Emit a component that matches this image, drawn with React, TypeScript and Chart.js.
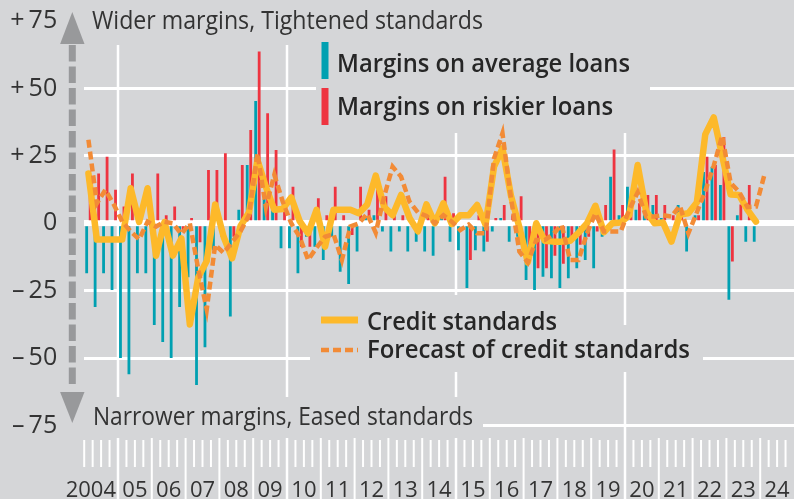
import React, { useEffect, useRef } from 'react';
import { Chart, registerables } from 'chart.js';

Chart.register(...registerables);

// ---------- data ----------
const YEAR_LABELS = ['2004', '05', '06', '07', '08', '09', '10', '11', '12', '13', '14', '15', '16', '17', '18', '19', '20', '21', '22', '23', '24'];
const QUARTER_NAMES = ['Q1', 'Q2', 'Q3', 'Q4'];
const CATEGORIES = YEAR_LABELS.flatMap((y) => QUARTER_NAMES.map((q) => `${y}${q}`));

// Margins on average loans (2004Q1 .. 2023Q4)
const AVG_MARGINS = [
  -18.5, -31, -18.5, -24.7, -50, -56, -18.5, -18.5, -37.7, -44,
  -50, -31, -20, -60, -46, -10, -5, -34.6, 5, 21.6,
  45.4, 9, 8, -9.3, -9.3, -18.5, -5, -8.7, -13.6, -5,
  -18, -22.5, -10.5, 2.5, 3, -3, -10.5, -3, -10.5, -6.8,
  -10.5, -12, 3, -6.8, -10, -24, -10, -10.5, -3, 2,
  -6.8, -5, -21, -24.7, -19.8, -20.4, -24, -20.4, -16.7, -13.6,
  -16.7, -5, 17.3, 3, 13.6, 5, 3, 6.8, 2, 0,
  6.8, -10.5, 3, 19, 21, 14.2, -28.4, 3, -6.8, -6.8,
];

// Margins on riskier loans
const RISKY_MARGINS = [
  12, 18.5, 24.7, 12.4, 6.2, 18.5, 0, 0, 18.5, 3,
  6.2, -3, 2, -7, 19.8, 19.8, 26, -5, 21.6, 34.6,
  63.7, 40.8, 27.2, 5, 13.6, -8.7, -8.7, 9.3, 3, 13.6,
  3, -4.3, 13.6, 5, 12.4, 10, 5, 3, 2, 0,
  2.5, 3, 17.3, 3.7, 0, -13.6, 3, -6.8, 2, 6.8,
  3, 10, -8, -16.7, -16.7, -12, -15, -6, -8, -5,
  -3, 6.8, 27.4, 6.8, 5, 7.4, 10.5, 10.5, 6.8, 3,
  5, 0, 3, 24.7, 21.6, 32, -14.2, 7, 14.2, 0,
];

// Credit standards
const CREDIT_STANDARDS = [
  18.5, -6, -6, -6, -6, 13, 0.5, 13, -12, 0.5,
  -12, -5.6, -37.5, -20, -14, 7, -5, -13, -1, 4,
  23.5, 13.5, 5, 5.3, 9.6, 0.8, -3.7, 5, -8.7, 5,
  5, 5, 3.7, 7, 17.7, 6, 3, 10.5, 2, -3,
  7, 0, 7.4, -0.3, 3, 3, 6.8, -0.5, 21, 27.8,
  10.3, -1.5, -14.5, 0, -6.5, -6.8, -6.8, -6.5, -3.5, 0,
  6.5, -3.3, 0, 0.3, 3, 21.6, 4.5, 0, 0.3, -6.8,
  3.3, 3.7, 7.7, 33, 39.3, 25, 10.7, 10.5, 5, 0.6,
];

// Forecast of credit standards (one quarter further)
const FORECAST = [
  31, 7.4, 12.4, 7, 0.6, -3, -6, 0.6, -1.2, 0.6,
  0, -4, 0, -17, -32, -8, -11, -7, -3, 3,
  26, 6, 18, 8, 0, -5, -13.6, -9, -5, -4,
  -13.6, -1.2, 0, 3.5, -3.5, 10, 21, 17.3, 8, 4,
  2.7, 0, 3, 0.6, -2.5, -0.5, -3.7, -3.7, 24, 33.4,
  9.5, -10.5, -14.5, -6.2, -6.2, -4, -0.6, -13.6, -13.6, -3.7,
  3.7, -3, -3, -3, 5, 11.5, 2.5, 2.5, 3, 2.5,
  6.5, -3.7, 4, 12, 21.3, 32.5, 15, 11.7, 6, 6.2,
  18,
];

const TOP_CAPTION = 'Wider margins, Tightened standards';
const BOTTOM_CAPTION = 'Narrower margins, Eased standards';
const LEGEND_AVG = 'Margins on average loans';
const LEGEND_RISKY = 'Margins on riskier loans';
const LEGEND_CREDIT = 'Credit standards';
const LEGEND_FORECAST = 'Forecast of credit standards';

// ---------- styles ----------
const W = 794;
const H = 499;
const BG = '#d5d6d8';
const INK = '#333333';
const INK_DARK = '#262626';
const TEAL = '#00a0b1';
const RED = '#ee3440';
const SOLID = '#fdb92a';
const DASHED = '#f28b36';
const ARROW = '#98999b';
const FONT = '"Open Sans", "Noto Sans", "DejaVu Sans", sans-serif';

// background boxes behind the captions / legend (hide the grid there)
const MASKS: [number, number, number, number][] = [
  [84, 0, 490, 45],
  [316, 0, 650, 133],
  [310, 295, 565, 330],
  [310, 325, 703, 372],
  [84, 397, 483, 438],
];

function drawText(
  ctx: CanvasRenderingContext2D,
  str: string,
  x: number,
  y: number,
  width: number | null,
  font: string,
  color: string,
  align: 'left' | 'right' | 'center' = 'left'
) {
  ctx.save();
  ctx.font = font;
  ctx.fillStyle = color;
  ctx.textBaseline = 'alphabetic';
  ctx.textAlign = 'left';
  const w = ctx.measureText(str).width;
  const sx = width ? width / w : 1;
  const dw = w * sx;
  let x0 = x;
  if (align === 'right') x0 = x - dw;
  else if (align === 'center') x0 = x - dw / 2;
  ctx.translate(x0, y);
  ctx.scale(sx, 1);
  ctx.fillText(str, 0, 0);
  ctx.restore();
}

const decorPlugin = {
  id: 'decor',
  beforeDraw(chart: any) {
    const { ctx } = chart;
    ctx.save();
    ctx.fillStyle = BG;
    ctx.fillRect(0, 0, chart.width, chart.height);
    ctx.restore();
  },
  beforeDatasetsDraw(chart: any) {
    const { ctx, chartArea } = chart;
    const xs = chart.scales.x;
    const qw = xs.getPixelForValue(1) - xs.getPixelForValue(0);
    const boundary = (k: number) => xs.getPixelForValue(k) - qw / 2;
    ctx.save();
    ctx.strokeStyle = '#ffffff';
    // five-year grid lines
    ctx.lineWidth = 2.5;
    for (let yi = 1; yi < YEAR_LABELS.length; yi += 5) {
      const px = boundary(yi * 4);
      ctx.beginPath();
      ctx.moveTo(px, chartArea.top);
      ctx.lineTo(px, H);
      ctx.stroke();
    }
    // masks
    ctx.fillStyle = BG;
    MASKS.forEach(([x0, y0, x1, y1]) => ctx.fillRect(x0, y0, x1 - x0, y1 - y0));
    // quarter ticks and year separators
    ctx.lineWidth = 2;
    for (let k = 0; k < CATEGORIES.length; k++) {
      const px = boundary(k);
      ctx.beginPath();
      if (k % 4 === 0 && k > 0) {
        ctx.moveTo(px, 438);
        ctx.lineTo(px, H);
      } else {
        ctx.moveTo(px, 440);
        ctx.lineTo(px, 467);
      }
      ctx.stroke();
    }
    ctx.restore();
  },
  afterDatasetsDraw(chart: any) {
    const { ctx } = chart;
    const xs = chart.scales.x;
    const qw = xs.getPixelForValue(1) - xs.getPixelForValue(0);
    const boundary = (k: number) => xs.getPixelForValue(k) - qw / 2;

    // year labels
    YEAR_LABELS.forEach((lab, i) => {
      const left = boundary(i * 4);
      const right = left + qw * 4;
      if (i === 0) drawText(ctx, lab, right - 2, 497, null, `400 22px ${FONT}`, INK, 'right');
      else drawText(ctx, lab, (left + right) / 2, 497, null, `400 22px ${FONT}`, INK, 'center');
    });

    // captions
    drawText(ctx, TOP_CAPTION, 92, 28.5, 391, `400 25px ${FONT}`, INK);
    drawText(ctx, BOTTOM_CAPTION, 93, 425, 380, `400 25px ${FONT}`, INK);

    // legend
    ctx.save();
    ctx.fillStyle = TEAL;
    ctx.fillRect(321.5, 42, 7, 37);
    ctx.fillStyle = RED;
    ctx.fillRect(321.5, 88, 7, 37);
    ctx.restore();
    drawText(ctx, LEGEND_AVG, 337, 72, 293, `600 25px ${FONT}`, INK_DARK);
    drawText(ctx, LEGEND_RISKY, 337, 115, 276, `600 25px ${FONT}`, INK_DARK);

    ctx.save();
    ctx.strokeStyle = SOLID;
    ctx.lineWidth = 7;
    ctx.beginPath();
    ctx.moveTo(321, 320);
    ctx.lineTo(358, 320);
    ctx.stroke();
    ctx.strokeStyle = DASHED;
    ctx.lineWidth = 4.5;
    ctx.setLineDash([8, 4]);
    ctx.beginPath();
    ctx.moveTo(321, 350);
    ctx.lineTo(358, 350);
    ctx.stroke();
    ctx.restore();
    drawText(ctx, LEGEND_CREDIT, 367, 330, 190, `600 25px ${FONT}`, INK_DARK);
    drawText(ctx, LEGEND_FORECAST, 367, 358, 323, `600 25px ${FONT}`, INK_DARK);

    // double arrow on the left
    ctx.save();
    ctx.strokeStyle = ARROW;
    ctx.fillStyle = ARROW;
    ctx.lineWidth = 7;
    ctx.setLineDash([16.5, 5]);
    ctx.beginPath();
    ctx.moveTo(72.3, 45);
    ctx.lineTo(72.3, 389);
    ctx.stroke();
    ctx.setLineDash([]);
    ctx.beginPath();
    ctx.moveTo(72.3, 12);
    ctx.lineTo(84.5, 44);
    ctx.lineTo(60.1, 44);
    ctx.closePath();
    ctx.fill();
    ctx.beginPath();
    ctx.moveTo(72.3, 423);
    ctx.lineTo(84.5, 392);
    ctx.lineTo(60.1, 392);
    ctx.closePath();
    ctx.fill();
    ctx.restore();
  },
};

export default function App() {
  const canvasRef = useRef<HTMLCanvasElement | null>(null);

  useEffect(() => {
    const canvas = canvasRef.current;
    if (!canvas) return;
    const chart = new Chart(canvas, {
      type: 'bar',
      data: {
        labels: CATEGORIES,
        datasets: [
          {
            type: 'line',
            label: LEGEND_FORECAST,
            data: FORECAST,
            borderColor: DASHED,
            borderWidth: 4.5,
            borderDash: [8, 4],
            pointRadius: 0,
            tension: 0,
            fill: false,
            order: 1,
          } as any,
          {
            type: 'line',
            label: LEGEND_CREDIT,
            data: CREDIT_STANDARDS,
            borderColor: SOLID,
            borderWidth: 6.5,
            borderJoinStyle: 'round',
            borderCapStyle: 'round',
            pointRadius: 0,
            tension: 0,
            fill: false,
            order: 2,
          } as any,
          {
            type: 'bar',
            label: LEGEND_AVG,
            data: AVG_MARGINS,
            backgroundColor: TEAL,
            borderWidth: 0,
            categoryPercentage: 0.83,
            barPercentage: 0.8,
            order: 3,
          },
          {
            type: 'bar',
            label: LEGEND_RISKY,
            data: RISKY_MARGINS,
            backgroundColor: RED,
            borderWidth: 0,
            categoryPercentage: 0.83,
            barPercentage: 0.8,
            order: 3,
          },
        ],
      },
      options: {
        animation: false,
        responsive: false,
        devicePixelRatio: 1,
        layout: { padding: { top: 21.1, bottom: 73.5, left: 0, right: 0 } },
        plugins: { legend: { display: false }, tooltip: { enabled: false } },
        scales: {
          x: {
            type: 'category',
            display: false,
            offset: true,
            grid: { display: false },
          },
          y: {
            min: -75,
            max: 75,
            ticks: {
              stepSize: 25,
              padding: 27,
              color: INK,
              font: { family: FONT, size: 25, weight: '400' },
              callback: (v: any) => {
                const n = Number(v);
                if (n > 0) return '+\u2009' + n;
                if (n < 0) return '\u2013\u2009' + Math.abs(n);
                return '0';
              },
            },
            grid: {
              color: (c: any) => (c.tick && c.tick.value === 75 ? 'rgba(0,0,0,0)' : '#ffffff'),
              lineWidth: (c: any) => (c.tick && c.tick.value === 0 ? 6 : 3),
              drawTicks: false,
            },
            border: { display: false },
            afterFit: (s: any) => {
              s.width = 84.2;
              s.paddingTop = 0;
              s.paddingBottom = 0;
            },
          },
        },
      } as any,
      plugins: [decorPlugin],
    });
    return () => chart.destroy();
  }, []);

  return (
    <div style={{ position: 'fixed', left: 0, top: 0, width: W, height: H, background: BG }}>
      <canvas ref={canvasRef} width={W} height={H} style={{ display: 'block', width: W, height: H }} />
    </div>
  );
}
